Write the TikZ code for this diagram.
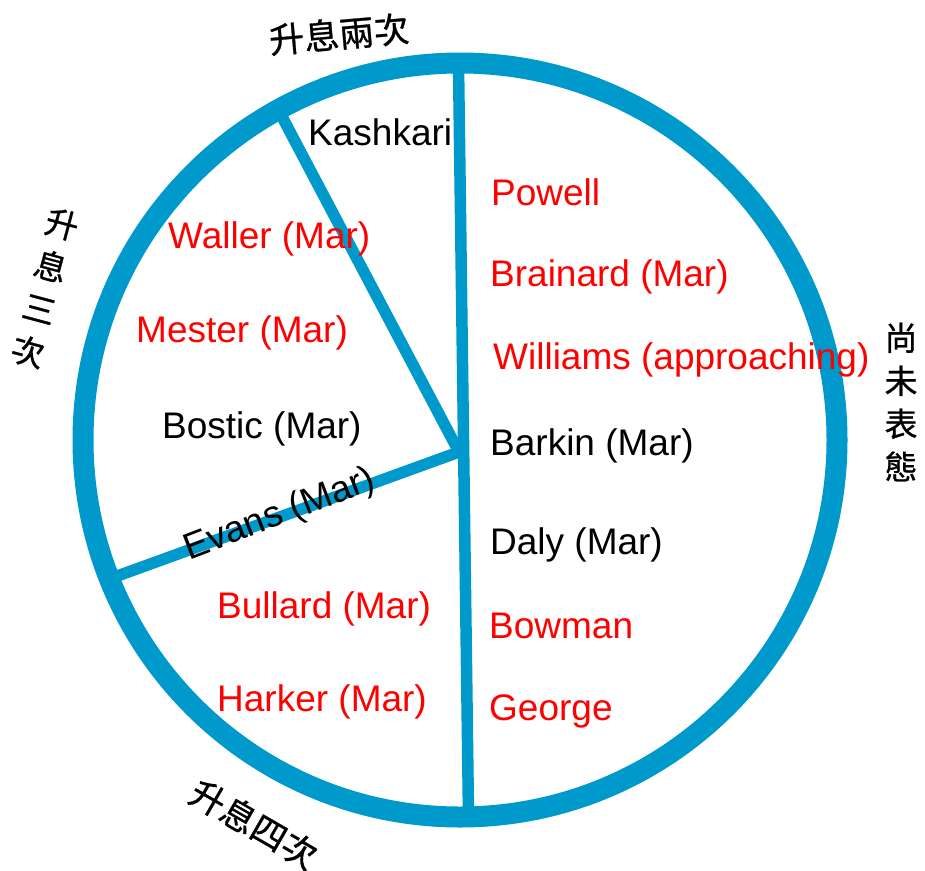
\documentclass[tikz,border=0pt]{standalone}
\usepackage{fontspec}
\setmainfont{Liberation Sans}
\newfontfamily\cjk[FakeBold=0.8]{Noto Sans CJK TC}
\definecolor{ringblue}{RGB}{0,153,204}
\tikzset{
  ring/.style={draw=ringblue, line width=21pt},
  spoke/.style={draw=ringblue, line width=11.5pt},
  lbl/.style={font=\fontsize{37}{44}\selectfont, anchor=base west, inner sep=0pt},
  blk/.style={lbl, text=black},
  rd/.style={lbl, text=red},
  grp/.style={font=\cjk\fontsize{35}{40}\selectfont, inner sep=0pt, align=center}
}
\begin{document}
\begin{tikzpicture}[x=1pt,y=-1pt]
\useasboundingbox (0,0) rectangle (925,870);
\coordinate (c) at (460,440);
\coordinate (j) at (459,452);
\coordinate (top) at (458.5,64);
\coordinate (bot) at (468.5,816);
\coordinate (tl) at (278.3,109.7);
\coordinate (lf) at (109.5,578.8);
\draw[spoke] (top) -- (bot);
\draw[spoke] (j) -- (tl);
\draw[spoke] (j) -- (lf);
\draw[ring] (c) circle[radius=377];
% names
\node[blk] (kashkari) at (308,145) {Kashkari};
\node[rd] (powell) at (491,205) {Powell};
\node[rd] (brainard) at (490,286) {Brainard (Mar)};
\node[rd] (williams) at (493,369) {Williams (approaching)};
\node[blk] (barkin) at (490,455) {Barkin (Mar)};
\node[blk] (daly) at (490,554) {Daly (Mar)};
\node[rd] (bowman) at (489,638) {Bowman};
\node[rd] (george) at (489,720) {George};
\node[rd] (waller) at (168,248) {Waller (Mar)};
\node[rd] (mester) at (136,342) {Mester (Mar)};
\node[blk] (bostic) at (162,438) {Bostic (Mar)};
\node[lbl, anchor=center, rotate=21] (evans) at (280,515) {Evans (Mar)};
\node[rd] (bullard) at (217,618) {Bullard (Mar)};
\node[rd] (harker) at (217,711) {Harker (Mar)};
% group labels
\node[grp, rotate=5] (g2) at (339,34) {升息兩次};
\node[grp, font=\cjk\fontsize{33}{44}\selectfont, rotate=-15] (g3) at (45,288) {升\\息\\三\\次};
\node[grp, font=\cjk\fontsize{33}{43}\selectfont] (gn) at (901,402) {尚\\未\\表\\態};
\node[grp, rotate=-30] (g4) at (254,824) {升息四次};
\end{tikzpicture}
\end{document}
